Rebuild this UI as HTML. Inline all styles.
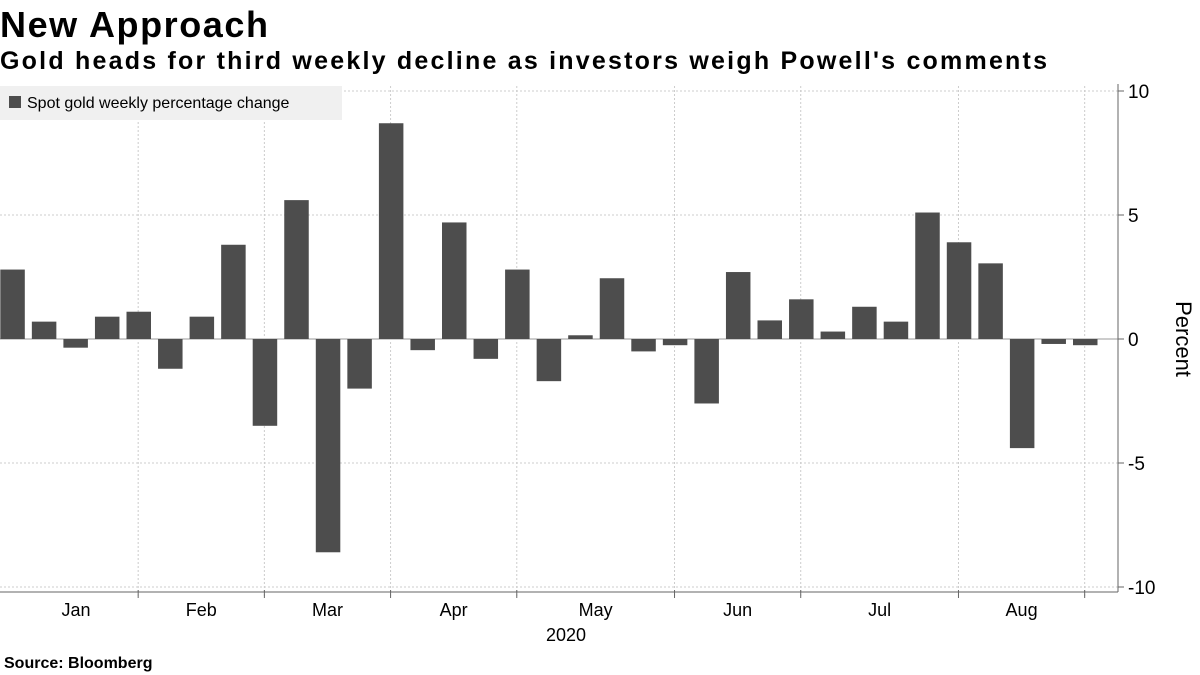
<!DOCTYPE html>
<html><head><meta charset="utf-8"><style>
body{margin:0;background:#fff;}
svg{display:block;font-family:"Liberation Sans",sans-serif;}
</style></head><body>
<svg width="1200" height="675" viewBox="0 0 1200 675">
<text x="0" y="37" font-size="36" font-weight="bold" fill="#000" textLength="268">New Approach</text>
<text x="0" y="69" font-size="25" font-weight="bold" fill="#000" textLength="1047">Gold heads for third weekly decline as investors weigh Powell's comments</text>
<g id="grid"></g>
<g id="bars"></g>
<g id="axis"></g>
<rect x="0" y="86" width="342" height="34" fill="#f0f0f0"/>
<rect x="9" y="96" width="12" height="12" fill="#4d4d4d"/>
<text x="27" y="108" font-size="16" fill="#000">Spot gold weekly percentage change</text>
<text transform="translate(1176,339) rotate(90)" text-anchor="middle" font-size="22" fill="#000">Percent</text>
<text x="566" y="641" text-anchor="middle" font-size="18" fill="#000">2020</text>
<text x="4" y="668" font-size="16" font-weight="bold" fill="#000">Source: Bloomberg</text>
</svg>
<script>
const values=[2.8,0.7,-0.35,0.9,1.1,-1.2,0.9,3.8,-3.5,5.6,-8.6,-2.0,8.7,-0.45,4.7,-0.8,2.8,-1.7,0.15,2.45,-0.5,-0.25,-2.6,2.7,0.75,1.6,0.3,1.3,0.7,5.1,3.9,3.05,-4.4,-0.2,-0.25];
const yTicks=[10,5,0,-5,-10];
const yTickLabels=["10","5","0","-5","-10"];
const months=["Jan","Feb","Mar","Apr","May","Jun","Jul","Aug"];
const monthBoundaries=[0,4.37,8.37,12.37,16.37,21.37,25.37,30.37,34.37];
const NS="http://www.w3.org/2000/svg";
const x0=0.3, step=31.55, bw=24.5;
const xs=i=>x0+i*step;
const ys=v=>339-v*24.8;
function mk(tag,attrs,parent){const e=document.createElementNS(NS,tag);for(const k in attrs)e.setAttribute(k,attrs[k]);document.getElementById(parent).appendChild(e);return e;}
yTicks.forEach((t,i)=>{
  const g=mk('line',{x1:0,x2:1118,y1:ys(t),y2:ys(t),stroke:t===0?'#999':'#ccc','stroke-dasharray':t===0?'':'2,2'},'grid');
  
  
  const tk=mk('line',{x1:1118,x2:1124,y1:ys(t),y2:ys(t),stroke:'#666'},'axis');
  
  
  const tx=mk('text',{x:1128,y:ys(t)+7,'font-size':19,fill:'#000'},'axis');
  tx.textContent=yTickLabels[i];
  
  
});
monthBoundaries.forEach((b,i)=>{
  if(i>0){
    const xb=xs(b);
    const g=mk('line',{x1:xb,x2:xb,y1:86,y2:596,stroke:'#ccc','stroke-dasharray':'2,2'},'grid');
    
    
    const tk=mk('line',{x1:xb,x2:xb,y1:590,y2:598,stroke:'#666'},'axis');
    
    
  }
  if(i<months.length){
    const a=i===0?0:xs(b), c=xs(monthBoundaries[i+1]);
    const tx=mk('text',{x:i===0?76:(a+c)/2,y:616,'font-size':18,'text-anchor':'middle',fill:'#000'},'axis');
    tx.textContent=months[i];
    
    
  }
});
const ax=mk('line',{x1:0,x2:1118,y1:592,y2:592,stroke:'#666'},'axis');


const ay=mk('line',{x1:1118,x2:1118,y1:84,y2:592,stroke:'#666'},'axis');


values.forEach((v,i)=>{
  const y=Math.min(ys(v),ys(0)), h=Math.abs(ys(v)-ys(0));
  const r=mk('rect',{x:xs(i),y:y,width:bw,height:h,fill:'#4d4d4d'},'bars');
  
  
});
</script>
</body></html>
